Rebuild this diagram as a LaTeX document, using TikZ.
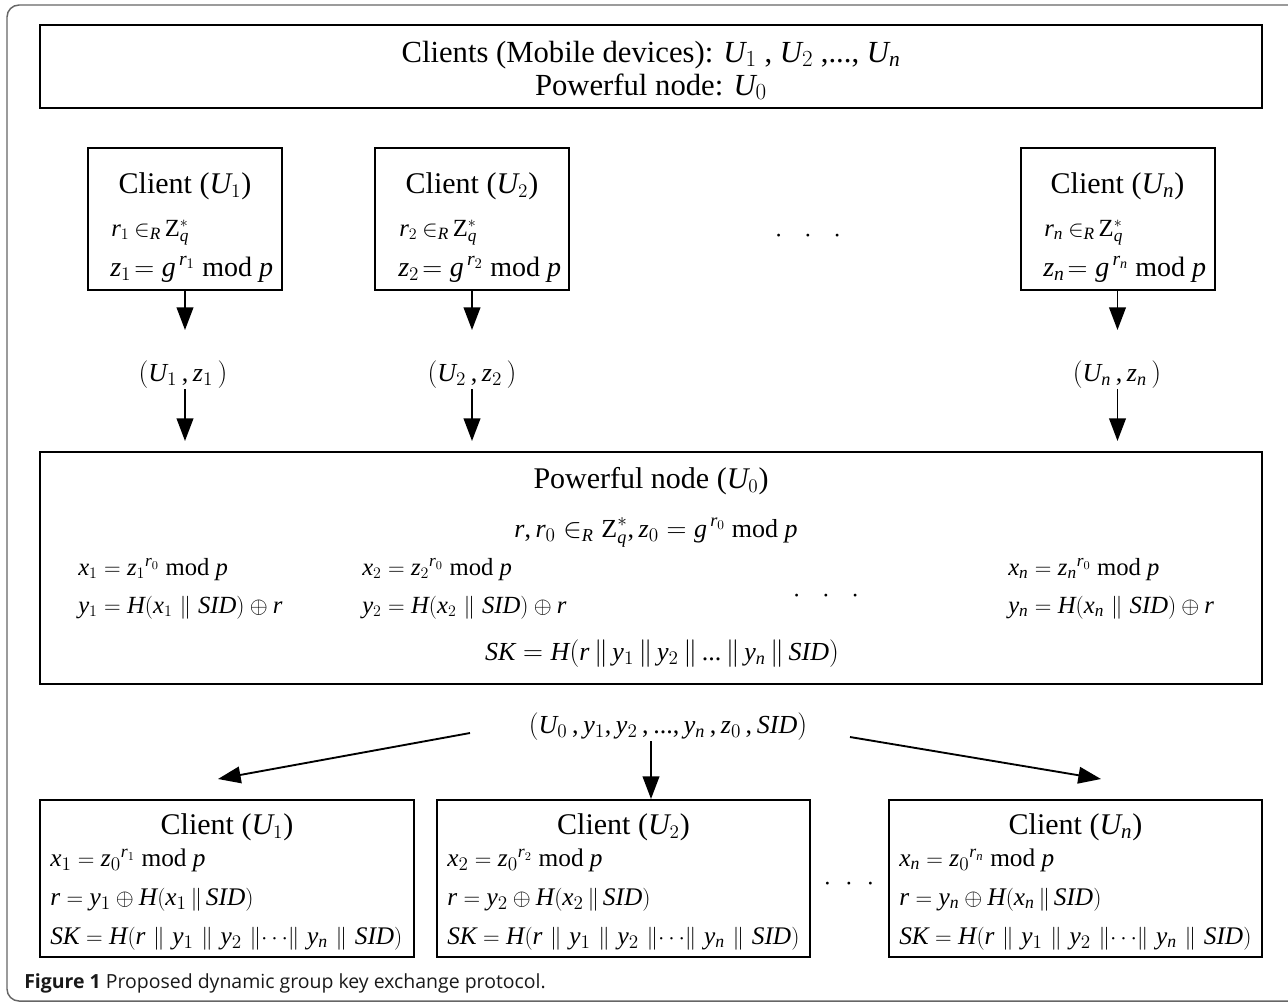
\documentclass[tikz,border=0pt]{standalone}
\usepackage{fontspec}
\setmainfont{Liberation Serif}
\newfontfamily\capfont{Open Sans}
\DeclareSymbolFont{letters}{TU}{\rmdefault}{m}{it}
\DeclareSymbolFont{tdig}{TU}{\rmdefault}{m}{n}
\DeclareMathSymbol{,}{\mathpunct}{tdig}{`,}
\DeclareMathSymbol{.}{\mathord}{tdig}{`.}
\DeclareMathSymbol{0}{\mathalpha}{tdig}{`0}
\DeclareMathSymbol{1}{\mathalpha}{tdig}{`1}
\DeclareMathSymbol{2}{\mathalpha}{tdig}{`2}
\DeclareMathSymbol{(}{\mathopen}{tdig}{`(}
\DeclareMathSymbol{)}{\mathclose}{tdig}{`)}
\DeclareMathSymbol{=}{\mathrel}{tdig}{`=}
\usetikzlibrary{arrows.meta}
\tikzset{
  outerframe/.style={draw=black!60, line width=1.1pt, rounded corners=9pt},
  boxed/.style={draw, line width=1.5pt, inner sep=0pt, outer sep=0pt},
  arr/.style={-{Triangle[length=17pt,width=12.5pt]}, line width=1.4pt},
  ttl/.style={font=\fontsize{22.5}{27}\selectfont, inner sep=0pt, anchor=base},
  toptxt/.style={font=\fontsize{23}{27}\selectfont, inner sep=0pt, anchor=base},
  cmath/.style={font=\fontsize{21}{25}\selectfont, inner sep=0pt, anchor=base west},
  cmathsm/.style={font=\fontsize{18.5}{23}\selectfont, inner sep=0pt, anchor=base west},
  mmath/.style={font=\fontsize{18.5}{22}\selectfont, inner sep=0pt, anchor=base west},
  kmath/.style={font=\fontsize{19}{23}\selectfont, inner sep=0pt, anchor=base west},
  mcen/.style={font=\fontsize{19.5}{23}\selectfont, inner sep=0pt, anchor=base},
  lbl/.style={font=\fontsize{19.5}{23}\selectfont, inner sep=0pt, anchor=base},
  dots/.style={font=\fontsize{19.5}{23}\selectfont, inner sep=0pt},
}
\newcommand\pp{\mkern3mu\|\mkern3mu}
\newcommand\ppm{\mkern5.5mu\|\mkern5.5mu}
\newcommand\ppk{\mkern6mu\|\mkern6mu}
\newcommand\inR{\mkern4mu{\in}_{R}\mkern3mu}
\begin{document}
\begin{tikzpicture}[x=0.75pt,y=-0.75pt]
\useasboundingbox (0,0) rectangle (1288,1004);
% outer frame
\draw[outerframe] (7,5) rectangle (1300,1001);

% top box
\node[boxed, minimum width=916.5pt, minimum height=62.25pt] (top) at (651,66.5) {};
\node[toptxt] (top1) at (651,62) {Clients (Mobile devices): $U_1$ , $U_2$ ,..., $U_n$};
\node[toptxt] (top2) at (651,95) {Powerful node: $U_0$};

% client boxes (first round)
\node[boxed, minimum width=145.5pt, minimum height=106.5pt] (c1) at (185,219) {};
\node[boxed, minimum width=145.5pt, minimum height=106.5pt] (c2) at (472,219) {};
\node[boxed, minimum width=145.5pt, minimum height=106.5pt] (cn) at (1117.5,219) {};

\node[ttl] (c1t) at (185,193) {Client ($U_1$)};
\node[cmathsm] (c1a) at (111,236) {$r_1 \inR \mathrm{Z}_q^{*}$};
\node[cmath] (c1b) at (110,276) {$z_1\!= g^{\,r_1}$ mod $p$};

\node[ttl] (c2t) at (472,193) {Client ($U_2$)};
\node[cmathsm] (c2a) at (399,236) {$r_2 \inR \mathrm{Z}_q^{*}$};
\node[cmath] (c2b) at (398,276) {$z_2\!= g^{\,r_2}$ mod $p$};

\node[ttl] (cnt) at (1117.5,193) {Client ($U_n$)};
\node[cmathsm] (cna) at (1044,236) {$r_n \inR \mathrm{Z}_q^{*}$};
\node[cmath] (cnb) at (1043,276) {$z_n\!= g^{\,r_n}$ mod $p$};

\node[dots] (d1) at (808,236) {$\cdot\;\;\cdot\;\;\cdot$};

% labels between
\node[lbl] (l1) at (183,381) {$(U_1\, , z_1\, )$};
\node[lbl] (l2) at (472,381) {$(U_2\, , z_2\, )$};
\node[lbl] (ln) at (1117,381) {$(U_n\, , z_n\, )$};

\coordinate (a1) at (185,330);
\coordinate (a2) at (472,330);
\coordinate (an) at (1117.5,330);
\coordinate (s1) at (185,389);
\coordinate (s2) at (472,389);
\coordinate (sn) at (1117.5,389);
\coordinate (e1) at (185,441);
\coordinate (e2) at (472,441);
\coordinate (en) at (1117.5,441);

\draw[arr] (c1.south) -- (a1);
\draw[arr] (c2.south) -- (a2);
\draw[arr] (cn.south) -- (an);
\draw[arr] (s1) -- (e1);
\draw[arr] (s2) -- (e2);
\draw[arr] (sn) -- (en);

% powerful node box
\node[boxed, minimum width=916.5pt, minimum height=174pt] (mid) at (651,568) {};
\node[ttl] (midt) at (651,488) {Powerful node ($U_0$)};
\node[mcen] (mid1) at (656,537) {$r, r_0 \in_{R} \mathrm{Z}_q^{*}, z_0 = g^{\,r_0}$ mod $p$};
\node[mmath] (m1x) at (78,575) {$x_1 = {z_1}^{r_0}$ mod $p$};
\node[mmath] (m1y) at (78,613) {$y_1 = H(x_1 \ppm SID) \oplus r$};
\node[mmath] (m2x) at (362,575) {$x_2 = {z_2}^{r_0}$ mod $p$};
\node[mmath] (m2y) at (362,613) {$y_2 = H(x_2 \ppm SID) \oplus r$};
\node[mmath] (mnx) at (1008,575) {$x_n = {z_n}^{r_0}$ mod $p$};
\node[mmath] (mny) at (1008,613) {$y_n = H(x_n \ppm SID) \oplus r$};
\node[dots] (d2) at (826,596) {$\cdot\;\;\cdot\;\;\cdot$};
\node[mcen] (msk) at (662,660) {$SK = H(r \pp y_1 \pp y_2 \pp...\pp y_n \pp SID)$};

% broadcast label
\node[lbl] (bc) at (668,733) {$(U_0\, , y_1, y_2\, ,..., y_n\, , z_0\, , SID)$};
\coordinate (bl0) at (470,733);
\coordinate (bl1) at (218,779);
\coordinate (bm0) at (651,741);
\coordinate (bm1) at (651,799);
\coordinate (br0) at (850,737);
\coordinate (br1) at (1101,779);
\draw[arr] (bl0) -- (bl1);
\draw[arr] (bm0) -- (bm1);
\draw[arr] (br0) -- (br1);

% client boxes (second round)
\node[boxed, minimum width=280.5pt, minimum height=117.75pt] (k1) at (227,878.5) {};
\node[boxed, minimum width=279.75pt, minimum height=117.75pt] (k2) at (623.5,878.5) {};
\node[boxed, minimum width=279.75pt, minimum height=117.75pt] (kn) at (1075.5,878.5) {};

\node[ttl] (k1t) at (227,834) {Client ($U_1$)};
\node[kmath] (k1a) at (50,866) {$x_1 = {z_0}^{r_1}$ mod $p$};
\node[kmath] (k1b) at (50,905) {$r = y_1 \oplus H(x_1 \pp SID)$};
\node[kmath] (k1c) at (50,944) {$SK = H(r \ppk y_1 \ppk y_2 \mkern6mu\|{\cdots}\|\mkern6mu y_n \ppk SID)$};

\node[ttl] (k2t) at (623.5,834) {Client ($U_2$)};
\node[kmath] (k2a) at (447,866) {$x_2 = {z_0}^{r_2}$ mod $p$};
\node[kmath] (k2b) at (447,905) {$r = y_2 \oplus H(x_2 \pp SID)$};
\node[kmath] (k2c) at (447,944) {$SK = H(r \ppk y_1 \ppk y_2 \mkern6mu\|{\cdots}\|\mkern6mu y_n \ppk SID)$};

\node[ttl] (knt) at (1075.5,834) {Client ($U_n$)};
\node[kmath] (kna) at (899,866) {$x_n = {z_0}^{r_n}$ mod $p$};
\node[kmath] (knb) at (899,905) {$r = y_n \oplus H(x_n \pp SID)$};
\node[kmath] (knc) at (899,944) {$SK = H(r \ppk y_1 \ppk y_2 \mkern6mu\|{\cdots}\|\mkern6mu y_n \ppk SID)$};

\node[dots] (d3) at (849,884) {$\cdot\;\cdot\;\cdot$};

% caption
\node[inner sep=0pt, anchor=base west, font=\capfont\fontsize{14.6}{17}\selectfont, text=black!90] (cap) at (24,988) {\textbf{Figure 1} Proposed dynamic group key exchange protocol.};
\end{tikzpicture}
\end{document}
